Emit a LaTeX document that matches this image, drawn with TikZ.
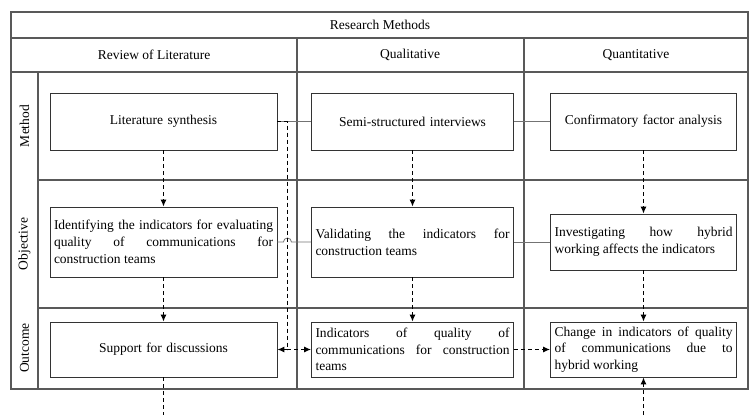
\documentclass[tikz,border=0pt]{standalone}
\usepackage{fontspec}
\setmainfont{Liberation Serif}
\usetikzlibrary{arrows.meta,positioning,calc}

\begin{document}
\begin{tikzpicture}[x=1pt,y=-1pt] % one unit is one pixel of the layout, y grows downwards
\tikzset{every node/.style={font=\fontsize{13.5}{16.7}\selectfont, text=black}} % same text size everywhere
\tikzset{grid/.style={draw=black!65, line width=1.1pt}} % lines of the table
\tikzset{box/.style={draw=black!80, line width=0.9pt, inner sep=4pt, align=justify}} % boxes in the cells
\tikzset{link/.style={draw=black!55, line width=0.8pt}} % plain joins between boxes
\tikzset{flow/.style={draw=black, line width=1pt, dash pattern=on 4pt off 3pt, -{Latex[length=7pt,width=6pt]}}}
\useasboundingbox (0,0) rectangle (749,415);
% table
\draw[grid] (11,12) rectangle (748,389);
\draw[grid] (11,38) -- (748,38);
\draw[grid] (11,72) -- (748,72);
\draw[grid] (38,180) -- (748,180);
\draw[grid] (38,308) -- (748,308);
\draw[grid] (38,72) -- (38,389);
\draw[grid] (297,38) -- (297,389);
\draw[grid] (524,38) -- (524,389);
% headers
\node (resmeth) at (380,25) {Research Methods};
\node (revlit) at (154,55) {Review of Literature};
\node (qual) at (410,55) {Qualitative};
\node (quant) at (636,55) {Quantitative};
\node[rotate=90] (lmethod) at (24.5,126) {Method};
\node[rotate=90] (lobjective) at (24.5,244) {Objective};
\node[rotate=90] (loutcome) at (24.5,348) {Outcome};
% method row
\node[box, text width=219pt, minimum height=57pt, align=center] (litsyn) at (163.5,121.5) {Literature synthesis};
\node[box, text width=194pt, minimum height=57pt, align=center] (semint) at (412.5,121.5) {Semi-structured interviews};
\node[box, text width=178pt, minimum height=57pt, align=center] (cfa) at (643.5,121.5) {Confirmatory factor analysis};
% objective row
\node[box, text width=219pt, minimum height=70pt] (idind) at (163.5,242) {Identifying the indicators for evaluating\linebreak quality of communications for\linebreak construction teams};
\node[box, text width=194pt, minimum height=70pt] (valind) at (412.5,242) {Validating the indicators for\linebreak construction teams};
\node[box, text width=178pt, minimum height=56pt] (invhyb) at (643.5,242) {Investigating how hybrid\linebreak working affects the indicators};
% outcome row
\node[box, text width=219pt, minimum height=55pt, align=center] (support) at (163.5,349.5) {Support for discussions};
\node[box, text width=194pt, minimum height=55pt] (indqual) at (412.5,349.5) {Indicators of quality of\linebreak communications for construction\linebreak teams};
\node[box, text width=178pt, minimum height=55pt] (change) at (643.5,349.5) {Change in indicators of quality\linebreak of communications due to\linebreak hybrid working};
% joins
\draw[link] (litsyn.east) -- (semint.west);
\draw[link] (semint.east) -- (cfa.west);
\draw[link] (idind.east) -- ++(6,0) coordinate (hopa) arc[start angle=180, end angle=360, radius=4] -- (valind.west);
\draw[link] (valind.east) -- (invhyb.west);
% dashed flow
\draw[flow] (litsyn.south) -- (idind.north);
\draw[flow] (idind.south) -- (support.north);
\draw[flow] (semint.south) -- (valind.north);
\draw[flow] (valind.south) -- (indqual.north);
\draw[flow] (cfa.south) -- (invhyb.north);
\draw[flow] (invhyb.south) -- (change.north);
\path (support.east) ++(10,0) coordinate (jn);
\draw[flow, -] (litsyn.east) -| (jn);
\draw[flow] (jn) -- (support.east);
\draw[flow] (jn) -- (indqual.west);
\draw[flow] (indqual.east) -- (change.west);
\coordinate (lbot) at (163.5,415);
\coordinate (rbot) at (643.5,415);
\draw[flow, -] (support.south) -- (lbot);
\draw[flow] (rbot) -- (change.south);
\end{tikzpicture}
\end{document}
